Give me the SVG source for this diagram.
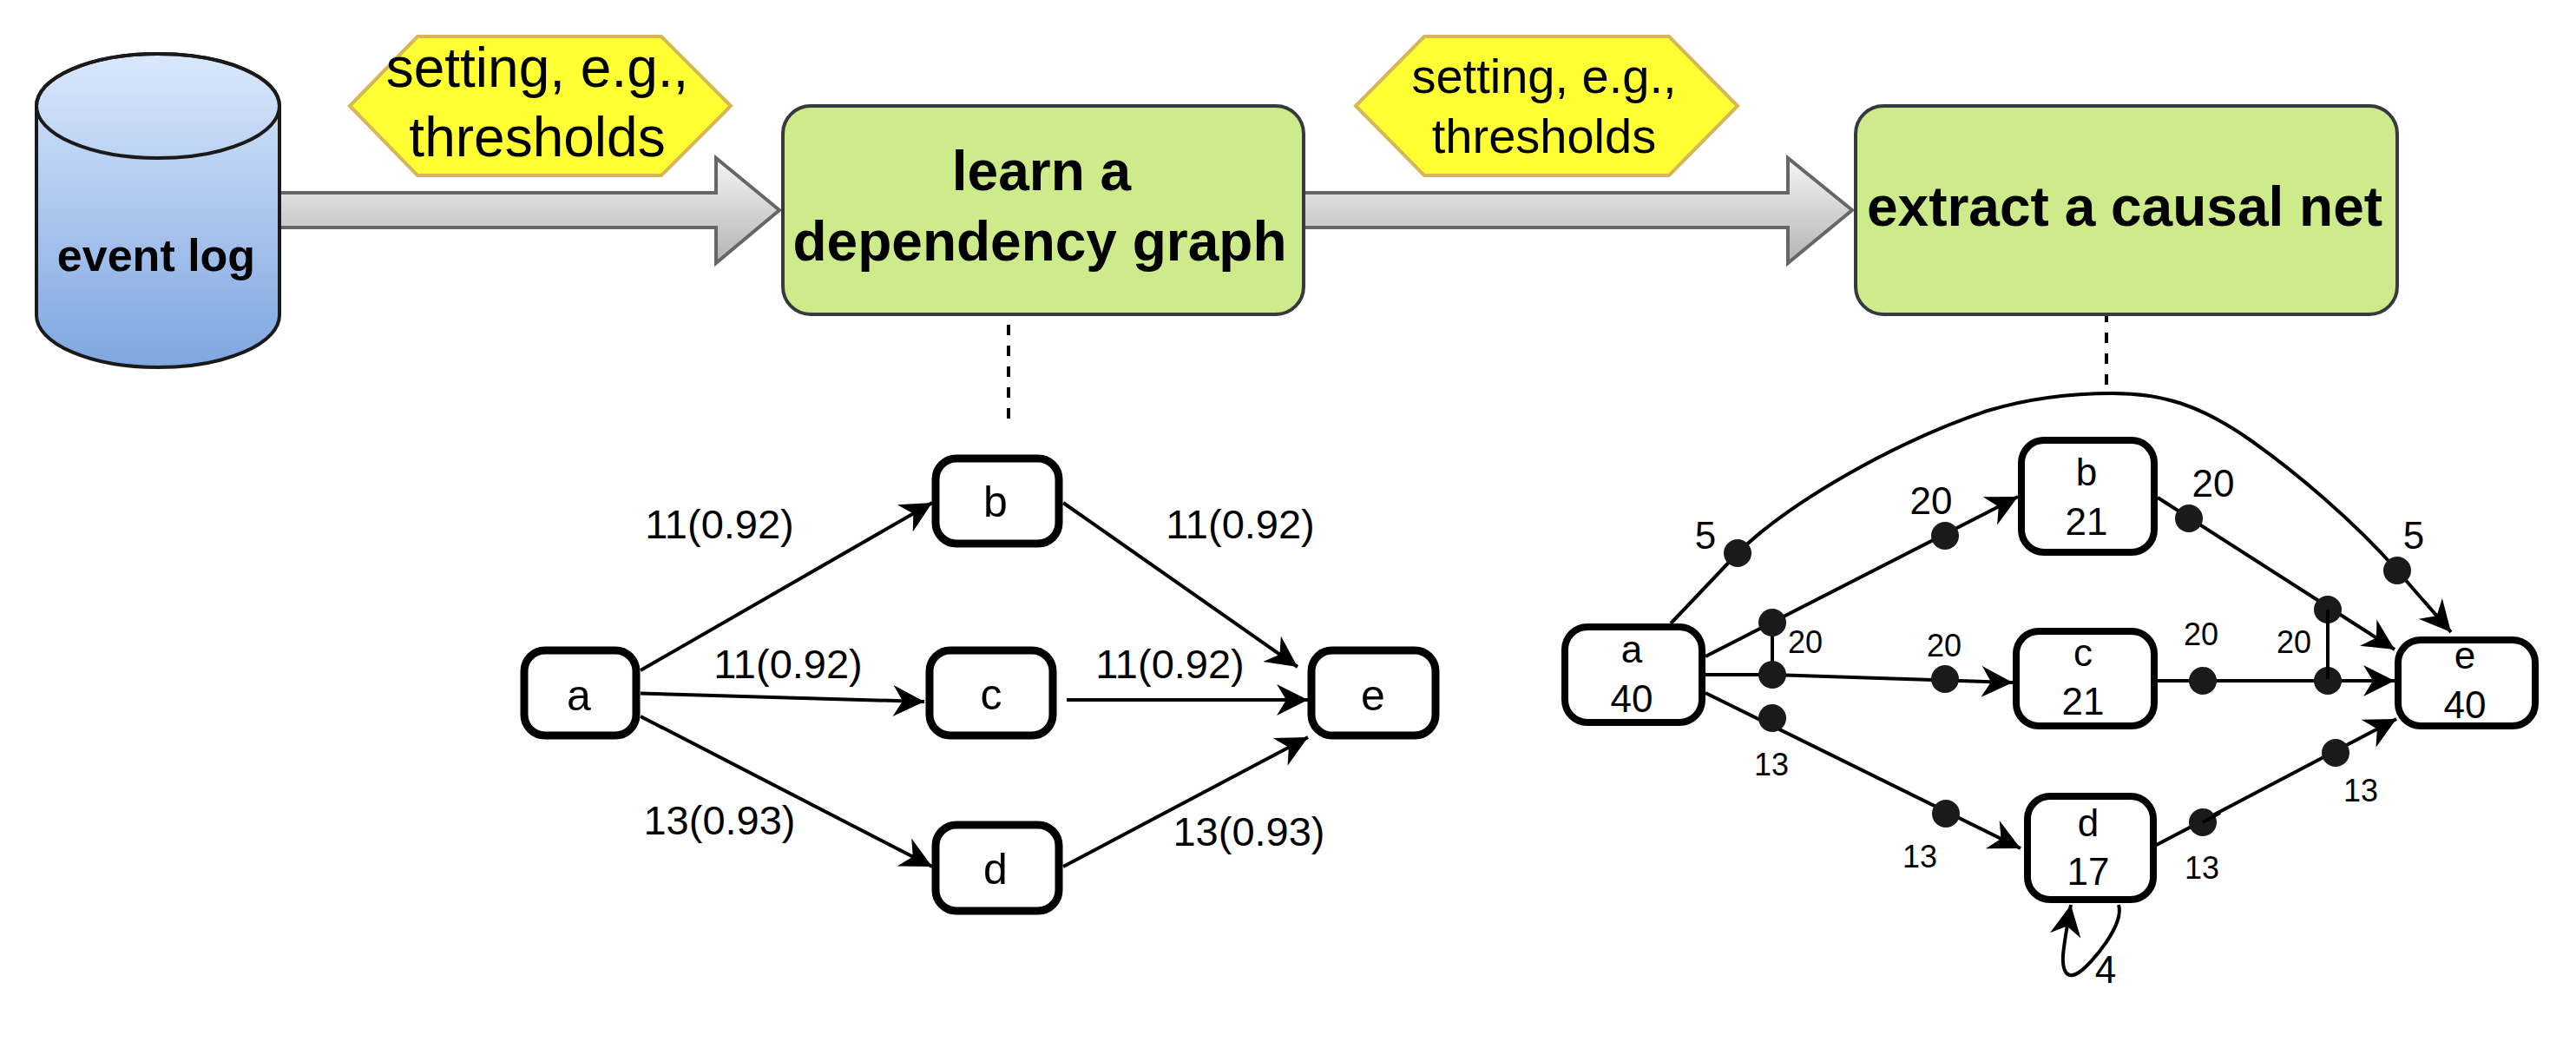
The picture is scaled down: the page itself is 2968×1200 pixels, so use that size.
<svg xmlns="http://www.w3.org/2000/svg" width="2968" height="1200" viewBox="0 0 2968 1200">
<style>
text{font-family:"Liberation Sans",Arial,sans-serif;fill:#000;text-anchor:middle}
.b{font-weight:bold}
.s64{font-size:64px}.s56{font-size:56px}.s52{font-size:52px}.s50{font-size:50px}.s47{font-size:47px}.s44{font-size:44px}.s36{font-size:36px}
.step{fill:#cdeb8b;stroke:#36393d;stroke-width:4}
.hex{fill:#ffff33;stroke:#d6b656;stroke-width:4}
.big{fill:url(#gArrow);stroke:#666;stroke-width:4}
.n{fill:#fff;stroke:#000;stroke-width:8}
.n9{fill:#fff;stroke:#000;stroke-width:9}
.e{fill:none;stroke:#000;stroke-width:4}
.a{marker-end:url(#head)}
.d{fill:none;stroke:#000;stroke-width:4;stroke-dasharray:12 12}
.dot{fill:#1a1a1a}
</style>
<defs>
<linearGradient id="gCyl" x1="0" y1="0" x2="0" y2="1"><stop offset="0" stop-color="#dae8fc"/><stop offset="1" stop-color="#7ea6e0"/></linearGradient>
<linearGradient id="gArrow" x1="0" y1="0" x2="0" y2="1"><stop offset="0" stop-color="#f5f5f5"/><stop offset="1" stop-color="#b3b3b3"/></linearGradient>
<marker id="head" markerUnits="userSpaceOnUse" markerWidth="42" markerHeight="42" refX="36" refY="21" orient="auto"><path d="M36,21 L0,3 L11,21 L0,39 Z" fill="#000"/></marker>
</defs>

<g id="connectors">
<path class="big" d="M322,222 H825 V182 L898,242 L825,303 V262 H322 Z"/>
<path class="big" d="M1502,222 H2060 V182 L2134,242 L2060,303 V262 H1502 Z"/>
<path class="d" d="M1162,374 V482"/>
<path class="d" d="M2427,359 V443"/>
<path class="e a" d="M738,772 L1074,579"/>
<path class="e a" d="M738,798.500 L1065,808"/>
<path class="e a" d="M738,825 L1074,998"/>
<path class="e a" d="M1225,579 L1495,768"/>
<path class="e a" d="M1229,806 H1507"/>
<path class="e a" d="M1225,998 L1507,849"/>
<path class="e a" d="M1925,718 L2002,637 C2060,580 2180,510 2290,473 C2340,458 2390,453 2434,453 C2490,453 2533,465 2593,507 C2643,542 2712,600 2762,657 L2824,728"/>
<path class="e a" d="M1965,756 L2325,572"/>
<path class="e a" d="M1965,777 H2042 L2319,786"/>
<path class="e a" d="M1965,798 L2328,977"/>
<path class="e" d="M2042,717 V777"/>
<path class="e a" d="M2486,573 L2759,748"/>
<path class="e a" d="M2486,784 H2759"/>
<path class="e a" d="M2477,977 L2761,828"/>
<path class="e a" d="M2441,1042 C2448,1065 2410,1110 2395,1120 C2380,1130 2376,1115 2377,1100 C2378,1088 2381,1070 2386,1042"/>
<g id="dots">
<circle class="dot" cx="2002" cy="637" r="16"/>
<circle class="dot" cx="2241" cy="617" r="16"/>
<circle class="dot" cx="2042" cy="717" r="16"/>
<circle class="dot" cx="2042" cy="777" r="16"/>
<circle class="dot" cx="2042" cy="827" r="16"/>
<circle class="dot" cx="2241" cy="782" r="16"/>
<circle class="dot" cx="2242" cy="937" r="16"/>
<circle class="dot" cx="2522" cy="597" r="16"/>
<circle class="dot" cx="2682" cy="702" r="16"/>
<circle class="dot" cx="2538" cy="784" r="16"/>
<circle class="dot" cx="2682" cy="784" r="16"/>
<circle class="dot" cx="2762" cy="657" r="16"/>
<circle class="dot" cx="2538" cy="947" r="16"/>
<circle class="dot" cx="2691" cy="867" r="16"/>
</g>
<path class="e" d="M2682,702 V782"/>
<path class="e" d="M2538,947 L2558,936"/>
</g>

<g id="event-log">
<path d="M42,122 A140,60 0 0 1 322,122 V363 A140,60 0 0 1 42,363 Z" fill="url(#gCyl)" stroke="#1a1a1a" stroke-width="4"/>
<ellipse cx="182" cy="122" rx="140" ry="60" fill="none" stroke="#1a1a1a" stroke-width="4"/>
<text class="b s52" x="180" y="312">event log</text>
</g>
<g id="setting-1">
<polygon class="hex" points="403,122 481,42 762,42 842,122 762,202 481,202"/>
<text class="s64" x="619" y="100">setting, e.g.,</text>
<text class="s64" x="619" y="180">thresholds</text>
</g>
<g id="learn">
<rect class="step" x="902" y="122" width="600" height="240" rx="32" ry="32"/>
<text class="b s64" x="1200" y="219">learn a</text>
<text class="b s64" x="1198" y="300">dependency graph</text>
</g>
<g id="setting-2">
<polygon class="hex" points="1562,122 1641,42 1923,42 2002,122 1923,202 1641,202"/>
<text class="s56" x="1779" y="107">setting, e.g.,</text>
<text class="s56" x="1779" y="176">thresholds</text>
</g>
<g id="extract">
<rect class="step" x="2138" y="122" width="624" height="240" rx="32" ry="32"/>
<text class="b s64" x="2448" y="260">extract a causal net</text>
</g>

<g id="dg-a"><rect class="n9" x="604" y="749" width="129" height="98" rx="24"/><text class="s50" x="667" y="818">a</text></g>
<g id="dg-b"><rect class="n9" x="1078" y="528" width="142" height="98" rx="24"/><text class="s50" x="1147" y="595">b</text></g>
<g id="dg-c"><rect class="n9" x="1071" y="749" width="142" height="98" rx="24"/><text class="s50" x="1142" y="817">c</text></g>
<g id="dg-d"><rect class="n9" x="1078" y="950" width="142" height="99" rx="24"/><text class="s50" x="1147" y="1018">d</text></g>
<g id="dg-e"><rect class="n9" x="1511" y="749" width="143" height="98" rx="24"/><text class="s50" x="1582" y="818">e</text></g>

<g id="dg-labels">
<text class="s47" x="829" y="620">11(0.92)</text>
<text class="s47" x="1429" y="620">11(0.92)</text>
<text class="s47" x="908" y="781">11(0.92)</text>
<text class="s47" x="1348" y="781">11(0.92)</text>
<text class="s47" x="829" y="961">13(0.93)</text>
<text class="s47" x="1439" y="974">13(0.93)</text>
</g>

<g id="cn-a"><rect class="n" x="1803" y="722" width="158" height="110" rx="26"/><text class="s44" x="1880" y="763">a</text><text class="s44" x="1880" y="820">40</text></g>
<g id="cn-b"><rect class="n" x="2329" y="507" width="153" height="129" rx="26"/><text class="s44" x="2404" y="559">b</text><text class="s44" x="2404" y="616">21</text></g>
<g id="cn-c"><rect class="n" x="2323" y="727" width="159" height="109" rx="26"/><text class="s44" x="2400" y="767">c</text><text class="s44" x="2400" y="823">21</text></g>
<g id="cn-d"><rect class="n" x="2336" y="917" width="145" height="119" rx="26"/><text class="s44" x="2406" y="963">d</text><text class="s44" x="2406" y="1019">17</text></g>
<g id="cn-e"><rect class="n" x="2763" y="737" width="158" height="99" rx="26"/><text class="s44" x="2840" y="770">e</text><text class="s44" x="2840" y="827">40</text></g>

<g id="cn-labels">
<text class="s44" x="1965" y="632">5</text>
<text class="s44" x="2225" y="592">20</text>
<text class="s36" x="2080" y="752">20</text>
<text class="s36" x="2240" y="756">20</text>
<text class="s44" x="2550" y="572">20</text>
<text class="s36" x="2536" y="743">20</text>
<text class="s36" x="2643" y="752">20</text>
<text class="s44" x="2781" y="632">5</text>
<text class="s36" x="2041" y="893">13</text>
<text class="s36" x="2212" y="999">13</text>
<text class="s36" x="2537" y="1012">13</text>
<text class="s36" x="2720" y="923">13</text>
<text class="s44" x="2426" y="1132">4</text>
</g>
</svg>
